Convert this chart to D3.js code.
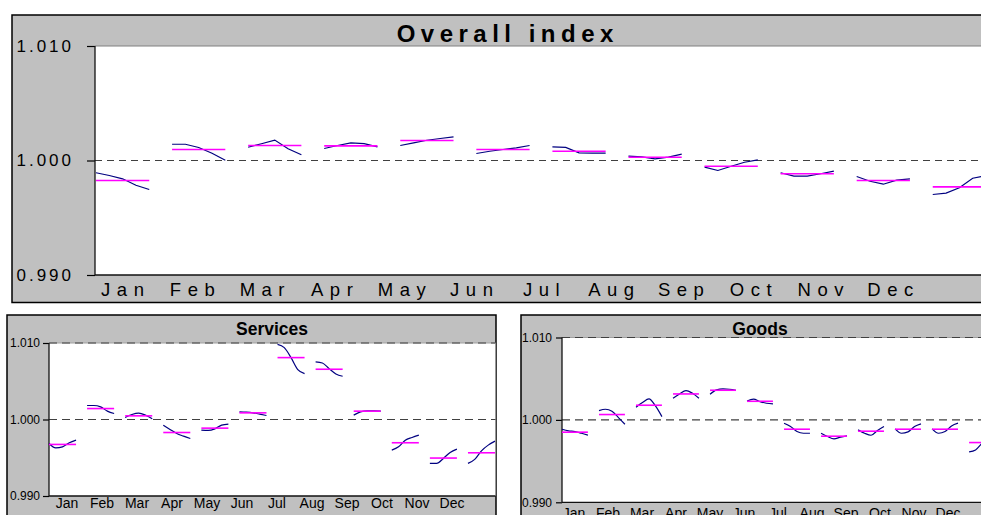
<!DOCTYPE html>
<html><head><meta charset="utf-8">
<script src="https://cdn.jsdelivr.net/npm/d3@7"></script>
<style>html,body{margin:0;padding:0;background:#fff;overflow:hidden}</style>
</head><body>
<svg id="chart" width="981" height="515"></svg>
<script>
// ---------------- data ----------------
const months = ["Jan","Feb","Mar","Apr","May","Jun","Jul","Aug","Sep","Oct","Nov","Dec"];
const yTickValues = [0.990, 1.000, 1.010];
const yTickLabels = ["0.990", "1.000", "1.010"];
const dashedLevels = [1.000];
const dashedLevelsSmall = [1.000, 1.010];

const overallTitle = "Overall index";
const overallValues = [
  [0.99893, 0.99869, 0.99840, 0.99784, 0.99747],
  [1.00142, 1.00142, 1.00114, 1.00064, 1.00003],
  [1.00116, 1.00146, 1.00178, 1.00102, 1.00050],
  [1.00105, 1.00131, 1.00154, 1.00148, 1.00119],
  [1.00131, 1.00154, 1.00177, 1.00192, 1.00207],
  [1.00061, 1.00081, 1.00096, 1.00111, 1.00131],
  [1.00119, 1.00114, 1.00067, 1.00064, 1.00064],
  [1.00038, 1.00032, 1.00015, 1.00029, 1.00055],
  [0.99942, 0.99913, 0.99950, 0.99985, 1.00006],
  [0.99893, 0.99863, 0.99863, 0.99884, 0.99907],
  [0.99860, 0.99819, 0.99793, 0.99828, 0.99840],
  [0.99703, 0.99715, 0.99762, 0.99845, 0.99869]
];
const overallMeans = [0.99825, 1.00096, 1.00131, 1.00128, 1.00175, 1.00096, 1.00081, 1.00029, 0.99950, 0.99884, 0.99825, 0.99770];

const servicesTitle = "Services";
const servicesValues = [
  [0.99687, 0.99630, 0.99643, 0.99696, 0.99730],
  [1.00183, 1.00183, 1.00165, 1.00109, 1.00078],
  [1.00026, 1.00065, 1.00083, 1.00057, 1.00009],
  [0.99926, 0.99870, 0.99817, 0.99783, 0.99752],
  [0.99861, 0.99857, 0.99878, 0.99926, 0.99939],
  [1.00100, 1.00096, 1.00087, 1.00070, 1.00052],
  [1.00983, 1.00939, 1.00809, 1.00652, 1.00600],
  [1.00752, 1.00739, 1.00665, 1.00596, 1.00565],
  [1.00057, 1.00100, 1.00113, 1.00113, 1.00109],
  [0.99600, 0.99643, 0.99730, 0.99765, 0.99796],
  [0.99426, 0.99426, 0.99491, 0.99570, 0.99613],
  [0.99426, 0.99478, 0.99591, 0.99665, 0.99717]
];
const servicesMeans = [0.99674, 1.00143, 1.00048, 0.99830, 0.99887, 1.00087, 1.00809, 1.00657, 1.00109, 0.99696, 0.99496, 0.99565];

const goodsTitle = "Goods";
const goodsValues = [
  [0.99887, 0.99867, 0.99859, 0.99838, 0.99814],
  [1.00113, 1.00129, 1.00105, 1.00028, 0.99947],
  [1.00154, 1.00210, 1.00255, 1.00170, 1.00040],
  [1.00263, 1.00315, 1.00356, 1.00323, 1.00263],
  [1.00311, 1.00364, 1.00376, 1.00372, 1.00360],
  [1.00230, 1.00251, 1.00222, 1.00202, 1.00194],
  [0.99960, 0.99919, 0.99859, 0.99838, 0.99838],
  [0.99838, 0.99798, 0.99770, 0.99790, 0.99806],
  [0.99879, 0.99838, 0.99814, 0.99871, 0.99919],
  [0.99891, 0.99838, 0.99855, 0.99919, 0.99952],
  [0.99891, 0.99838, 0.99859, 0.99927, 0.99960],
  [0.99612, 0.99636, 0.99717, 0.99778, 0.99818]
];
const goodsMeans = [0.99851, 1.00065, 1.00178, 1.00315, 1.00360, 1.00226, 0.99887, 0.99802, 0.99863, 0.99887, 0.99887, 0.99725];

// ---------------- drawing ----------------
const svg = d3.select("#chart");
const FONT = "'Liberation Sans', Arial, Helvetica, sans-serif";

function drawPanel(p, title, values, means) {
  const g = svg.append("g");
  g.append("rect")
    .attr("x", p.box.x).attr("y", p.box.y).attr("width", p.box.w).attr("height", p.box.h)
    .attr("fill", "#C0C0C0").attr("stroke", "#000").attr("stroke-width", 1.5);
  g.append("rect")
    .attr("x", p.plot.x0).attr("y", p.plot.y0)
    .attr("width", p.plot.x1 - p.plot.x0).attr("height", p.plot.y1 - p.plot.y0)
    .attr("fill", "#fff");

  const y = d3.scaleLinear().domain([0.990, 1.010]).range([p.plot.y1, p.plot.y0]);
  const seg = d3.scaleBand().domain(months).range(p.segRange).paddingInner(p.segPad).paddingOuter(0);
  const lab = d3.scaleBand().domain(months).range(p.labRange);

  // top border of plot
  g.append("line").attr("x1", p.plot.x0).attr("x2", p.plot.x1)
    .attr("y1", p.plot.y0).attr("y2", p.plot.y0)
    .attr("stroke", p.topBorder).attr("stroke-width", 1.2);

  // dashed reference lines
  p.dashed.forEach(v => {
    g.append("line").attr("x1", p.plot.x0).attr("x2", p.plot.x1)
      .attr("y1", y(v)).attr("y2", y(v))
      .attr("stroke", "#404040").attr("stroke-width", 1.2)
      .attr("stroke-dasharray", p.dash);
  });

  // y axis
  const ya = g.append("g").attr("transform", `translate(${p.plot.x0},0)`)
    .call(d3.axisLeft(y).tickValues(yTickValues)
      .tickFormat((d, i) => yTickLabels[i]).tickSize(p.tick).tickPadding(p.yPad));
  ya.select(".domain").remove();
  ya.selectAll("line").attr("stroke", "#000").attr("stroke-width", 1.2);
  ya.selectAll("text").attr("font-family", FONT).attr("font-size", p.yFont)
    .attr("letter-spacing", p.ySpacing).attr("fill", "#000");

  // month labels
  const xa = g.append("g").attr("transform", `translate(0,${p.plot.y1})`)
    .call(d3.axisBottom(lab).tickSize(0).tickPadding(p.xPad));
  xa.select(".domain").remove();
  xa.selectAll("text").attr("font-family", FONT).attr("font-size", p.xFont)
    .attr("letter-spacing", p.xSpacing).attr("dx", p.xSpacing / 2).attr("fill", "#000");

  // axis lines
  g.append("line").attr("x1", p.plot.x0).attr("x2", p.plot.x0)
    .attr("y1", p.plot.y0).attr("y2", p.plot.y1).attr("stroke", "#111").attr("stroke-width", 1.3);
  g.append("line").attr("x1", p.plot.x0).attr("x2", p.plot.x1)
    .attr("y1", p.plot.y1).attr("y2", p.plot.y1).attr("stroke", "#111").attr("stroke-width", 1.3);

  // series
  const idx = d3.scaleLinear().domain([0, 4]).range([0, seg.bandwidth()]);
  months.forEach((m, i) => {
    const x0 = seg(m);
    const line = d3.line().x((d, j) => x0 + idx(j)).y(d => y(d)).curve(p.curve);
    g.append("path").datum(values[i]).attr("d", line)
      .attr("fill", "none").attr("stroke", "#000080").attr("stroke-width", 1.2);
    g.append("line").attr("x1", x0).attr("x2", x0 + seg.bandwidth())
      .attr("y1", y(means[i])).attr("y2", y(means[i]))
      .attr("stroke", "#FF00FF").attr("stroke-width", 1.6);
  });

  // title
  g.append("text").attr("x", p.titleX + p.titleSpacing / 2).attr("y", p.titleY)
    .attr("text-anchor", "middle").attr("font-family", FONT)
    .attr("font-size", p.titleFont).attr("font-weight", "bold")
    .attr("letter-spacing", p.titleSpacing).attr("fill", "#000").text(title);
}

drawPanel({
  box: {x: 12, y: 15, w: 1000, h: 287.5},
  plot: {x0: 95, x1: 1010, y0: 46, y1: 275},
  segRange: [96, 986], segPad: 0.3,
  labRange: [87.6, 925.2],
  topBorder: "#808080", dashed: dashedLevels, dash: "7,5",
  tick: 8, yPad: 13, yFont: 17, ySpacing: 3,
  xPad: 8, xFont: 18.5, xSpacing: 6.5,
  titleX: 505, titleY: 41.5, titleFont: 24, titleSpacing: 5.5,
  curve: d3.curveLinear
}, overallTitle, overallValues, overallMeans);

drawPanel({
  box: {x: 7, y: 315, w: 489, h: 220},
  plot: {x0: 49, x1: 495.5, y0: 343, y1: 496},
  segRange: [49, 495], segPad: 0.29,
  labRange: [49.5, 469.5],
  topBorder: "#a0a0a0", dashed: dashedLevelsSmall, dash: "8,5",
  tick: 6, yPad: 3, yFont: 12, ySpacing: 0,
  xPad: 2, xFont: 14, xSpacing: 0,
  titleX: 272, titleY: 334.5, titleFont: 17.5, titleSpacing: 0,
  curve: d3.curveMonotoneX
}, servicesTitle, servicesValues, servicesMeans);

drawPanel({
  box: {x: 521, y: 315, w: 480, h: 220},
  plot: {x0: 562, x1: 1001, y0: 337.5, y1: 502.3},
  segRange: [562, 995], segPad: 0.3,
  labRange: [557, 965],
  topBorder: "#a0a0a0", dashed: dashedLevelsSmall, dash: "8,5",
  tick: 6, yPad: 4, yFont: 12, ySpacing: 0,
  xPad: 6, xFont: 14, xSpacing: 0,
  titleX: 760, titleY: 335, titleFont: 17.5, titleSpacing: 0,
  curve: d3.curveMonotoneX
}, goodsTitle, goodsValues, goodsMeans);
</script>
</body></html>
